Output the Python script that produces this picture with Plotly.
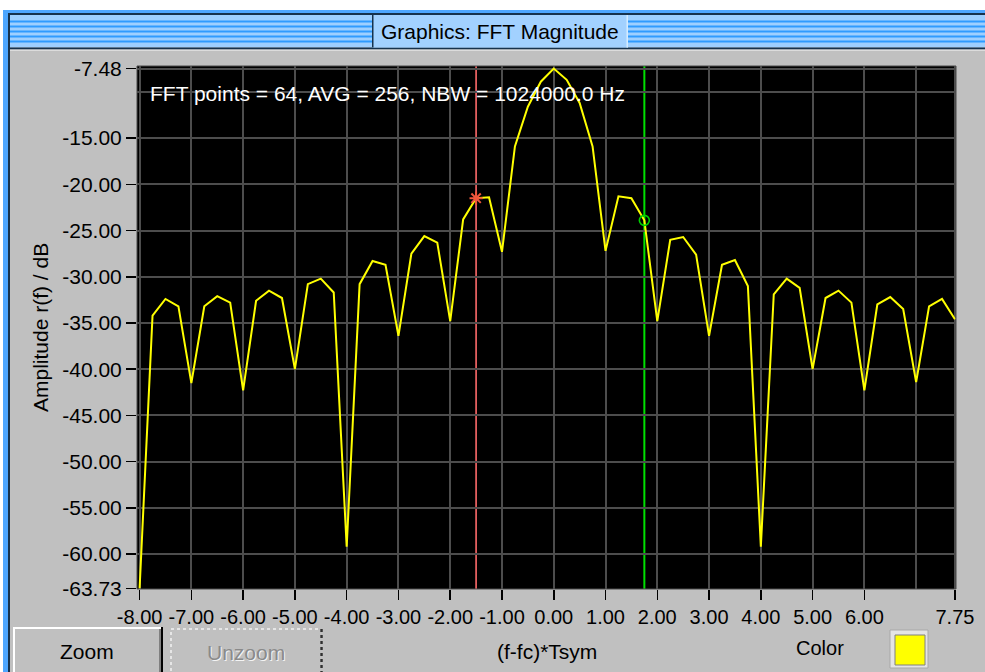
import plotly.graph_objects as go

# ---------------- data ----------------
freq = [-8.00, -7.75, -7.50, -7.25, -7.00, -6.75, -6.50, -6.25,
        -6.00, -5.75, -5.50, -5.25, -5.00, -4.75, -4.50, -4.25,
        -4.00, -3.75, -3.50, -3.25, -3.00, -2.75, -2.50, -2.25,
        -2.00, -1.75, -1.50, -1.25, -1.00, -0.75, -0.50, -0.25,
        0.00, 0.25, 0.50, 0.75, 1.00, 1.25, 1.50, 1.75,
        2.00, 2.25, 2.50, 2.75, 3.00, 3.25, 3.50, 3.75,
        4.00, 4.25, 4.50, 4.75, 5.00, 5.25, 5.50, 5.75,
        6.00, 6.25, 6.50, 6.75, 7.00, 7.25, 7.50, 7.75]

amp_db = [-63.73, -34.2, -32.4, -33.2, -41.5, -33.2, -32.1, -32.8,
          -42.3, -32.6, -31.5, -32.3, -40.0, -30.8, -30.2, -31.7,
          -59.2, -30.8, -28.3, -28.7, -36.4, -27.5, -25.6, -26.3,
          -34.8, -23.8, -21.5, -21.4, -27.3, -15.9, -11.6, -8.9,
          -7.48, -8.7, -11.2, -15.9, -27.2, -21.3, -21.5, -23.9,
          -34.8, -26.0, -25.7, -27.6, -36.4, -28.7, -28.2, -31.0,
          -59.2, -31.9, -30.2, -31.2, -40.0, -32.3, -31.5, -32.8,
          -42.3, -33.0, -32.2, -33.5, -41.4, -33.2, -32.4, -34.6]

x_tickvals = [-8, -7, -6, -5, -4, -3, -2, -1, 0, 1, 2, 3, 4, 5, 6, 7.75]
x_ticktext = ["-8.00", "-7.00", "-6.00", "-5.00", "-4.00", "-3.00", "-2.00",
              "-1.00", "0.00", "1.00", "2.00", "3.00", "4.00", "5.00",
              "6.00", "7.75"]
x_extra_grid = [7]

y_tickvals = [-7.48, -15, -20, -25, -30, -35, -40, -45, -50, -55, -60, -63.73]
y_ticktext = ["-7.48", "-15.00", "-20.00", "-25.00", "-30.00", "-35.00",
              "-40.00", "-45.00", "-50.00", "-55.00", "-60.00", "-63.73"]
y_extra_grid = [-10]

cursor1_f = -1.50
cursor2_f = 1.75
info_text = "FFT points = 64, AVG = 256, NBW = 1024000.0 Hz"

# ---------------- layout geometry ----------------
W, H = 985, 672
L, R, T, B = 137, 29, 66, 83
PW, PH = W - L - R, H - T - B
FONT = "Liberation Sans, Arial, sans-serif"


def px(x):
    return (x - L) / PW


def py(y):
    return (H - B - y) / PH


fig = go.Figure()

fig.add_trace(go.Scatter(x=freq, y=amp_db, mode="lines",
                         line=dict(color="#ffff00", width=2),
                         hoverinfo="skip"))

c1_y = amp_db[freq.index(cursor1_f)]
c2_y = amp_db[freq.index(cursor2_f)]

fig.add_trace(go.Scatter(x=[cursor1_f], y=[c1_y], mode="markers",
                         marker=dict(symbol="asterisk-open", size=11,
                                     line=dict(color="#ff6b6b", width=2)),
                         hoverinfo="skip"))
fig.add_trace(go.Scatter(x=[cursor2_f], y=[c2_y], mode="markers",
                         marker=dict(symbol="circle-open", size=10,
                                     color="#00d000",
                                     line=dict(color="#00d000", width=1.6)),
                         hoverinfo="skip"))

shapes = []
# cursors
shapes.append(dict(type="line", xref="x", yref="paper", x0=cursor1_f, x1=cursor1_f,
                   y0=0, y1=1, line=dict(color="#ff6b6b", width=1.6), layer="between"))
shapes.append(dict(type="line", xref="x", yref="paper", x0=cursor2_f, x1=cursor2_f,
                   y0=0, y1=1, line=dict(color="#00e000", width=2), layer="between"))
# plot border
shapes.append(dict(type="rect", xref="paper", yref="paper", x0=0, x1=1, y0=0, y1=1,
                   line=dict(color="#4a4a4a", width=1), layer="above"))


def rect(x0, y0, x1, y1, fill, line=None, dash=None, lw=1):
    d = dict(type="rect", xref="paper", yref="paper",
             x0=px(x0), x1=px(x1), y0=py(y1), y1=py(y0),
             fillcolor=fill, layer="above")
    if line is None:
        d["line"] = dict(width=0)
    else:
        d["line"] = dict(color=line, width=lw, dash=dash or "solid")
    shapes.append(d)


# window chrome
rect(0, 0, 985, 10, "white")
rect(0, 0, 3, 672, "white")
rect(3, 10, 985, 13, "#4da6ff")
rect(3, 10, 8, 672, "#4da6ff")
rect(8, 13, 985, 15, "#16324d")
rect(8, 13, 10, 672, "#16324d")
rect(10, 15, 985, 47.5, "#9dcfff")
for yy in [20.5, 25.5, 30.5, 35.5, 40.5]:
    rect(10, yy, 985, yy + 2, "#2e9bff")
rect(10, 47.5, 985, 49.5, "#16324d")
rect(10, 49.5, 985, 51, "#dcdcdc")
rect(372, 15, 628, 47.5, "#a2d1ff")
rect(372, 15, 373.5, 47.5, "#16324d")
rect(626.5, 15, 628, 47.5, "#d4ebff")

# Zoom button
rect(13, 627, 163, 672, "#c0c0c0")
rect(13, 627, 163, 629, "white")
rect(13, 627, 15, 672, "white")
rect(159, 629, 161, 672, "#808080")
rect(161, 627, 163, 672, "black")
# Unzoom button (disabled, dotted focus)
rect(171, 629, 321, 674, "rgba(0,0,0,0)", line="#f2f2f2", dash="dot", lw=1.5)
shapes.append(dict(type="line", xref="paper", yref="paper", x0=px(321.5), x1=px(321.5),
                   y0=py(629), y1=py(672), line=dict(color="#303030", width=2.5, dash="dot"),
                   layer="above"))
# colour swatch
rect(890, 630, 928, 668, "#e4e4e4", line="#a8a8a8", lw=1)
rect(895, 635, 925, 665, "#ffff00", line="#808080", lw=1)

annotations = [
    dict(text=info_text, x=px(148), y=py(93), xref="paper", yref="paper",
         xanchor="left", yanchor="middle", showarrow=False,
         font=dict(family=FONT, size=21, color="white")),
    dict(text="Amplitude r(f) / dB", x=px(40), y=py(328), xref="paper", yref="paper",
         xanchor="center", yanchor="middle", textangle=-90, showarrow=False,
         font=dict(family=FONT, size=21, color="black")),
    dict(text="(f-fc)*Tsym", x=px(547), y=py(651), xref="paper", yref="paper",
         xanchor="center", yanchor="middle", showarrow=False,
         font=dict(family=FONT, size=21, color="black")),
    dict(text="Graphics: FFT Magnitude", x=px(500), y=py(32), xref="paper", yref="paper",
         xanchor="center", yanchor="middle", showarrow=False,
         font=dict(family=FONT, size=21, color="black")),
    dict(text="Zoom", x=px(87), y=py(651), xref="paper", yref="paper",
         xanchor="center", yanchor="middle", showarrow=False,
         font=dict(family=FONT, size=21, color="black")),
    dict(text="Unzoom", x=px(247), y=py(653), xref="paper", yref="paper",
         xanchor="center", yanchor="middle", showarrow=False,
         font=dict(family=FONT, size=21, color="#f4f4f4")),
    dict(text="Unzoom", x=px(246), y=py(652), xref="paper", yref="paper",
         xanchor="center", yanchor="middle", showarrow=False,
         font=dict(family=FONT, size=21, color="#8a8a8a")),
    dict(text="Color", x=px(820), y=py(648), xref="paper", yref="paper",
         xanchor="center", yanchor="middle", showarrow=False,
         font=dict(family=FONT, size=20, color="black")),
]

fig.update_layout(
    width=W, height=H, autosize=False,
    margin=dict(l=L, r=R, t=T, b=B, pad=0),
    paper_bgcolor="#c0c0c0", plot_bgcolor="black",
    showlegend=False,
    shapes=shapes, annotations=annotations,
    xaxis=dict(range=[-8.05, 7.77], tickmode="array", tickvals=x_tickvals,
               ticktext=x_ticktext, ticks="outside", ticklen=10, tickwidth=1.5,
               tickcolor="black", showgrid=True, gridcolor="#4d4d4d", gridwidth=2,
               zeroline=False, showline=False, fixedrange=True,
               tickfont=dict(family=FONT, size=20, color="black"),
               minor=dict(tickmode="array", tickvals=x_extra_grid, showgrid=True,
                          gridcolor="#4d4d4d", gridwidth=2, ticks="")),
    yaxis=dict(range=[-63.78, -7.2], tickmode="array", tickvals=y_tickvals,
               ticktext=y_ticktext, ticks="outside", ticklen=10, tickwidth=1.5,
               tickcolor="black", showgrid=True, gridcolor="#4d4d4d", gridwidth=2,
               zeroline=False, showline=False, fixedrange=True,
               tickfont=dict(family=FONT, size=21, color="black"),
               minor=dict(tickmode="array", tickvals=y_extra_grid, showgrid=True,
                          gridcolor="#4d4d4d", gridwidth=2, ticks="")),
)

fig.write_html(
    "out.html",
    config={"displayModeBar": False, "staticPlot": True},
    post_script="document.body.style.margin='0px'; document.body.style.overflow='hidden';",
)
